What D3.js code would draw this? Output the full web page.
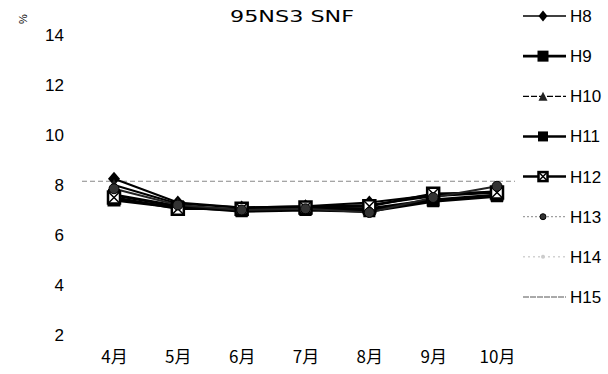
<!DOCTYPE html>
<html><head><meta charset="utf-8">
<script src="https://cdn.jsdelivr.net/npm/d3@7"></script>
<style>body{margin:0;background:#fff}svg{display:block}</style>
</head><body>
<svg id="c" width="608" height="374"></svg>
<script>
const months = ["4月","5月","6月","7月","8月","9月","10月"];
const yTicks = [2,4,6,8,10,12,14];
const seriesNames = ["H8","H9","H10","H11","H12","H13","H14","H15"];
const h8  = [8.25,7.30,7.10,7.15,7.30,7.60,7.75];
const h9  = [7.40,7.10,7.00,7.05,7.05,7.40,7.60];
const h10 = [8.00,7.25,7.10,7.15,7.20,7.55,7.70];
const h11 = [7.60,7.15,6.95,7.00,6.95,7.35,7.55];
const h12 = [7.50,7.05,7.05,7.10,7.15,7.65,7.70];
const h13 = [7.85,7.20,7.00,7.05,6.90,7.50,7.95];
const h15 = 8.15;

const FONT = "Liberation Sans, Arial, sans-serif";
const svg = d3.select("#c");
const x = d3.scalePoint().domain(months).range([114,497]);
const y = d3.scaleLinear().domain([2,14]).range([335,35]);

svg.append("text").attr("x",292).attr("y",22).attr("text-anchor","middle")
  .attr("font-family","DejaVu Sans, sans-serif").attr("font-size",15)
  .attr("textLength",124).attr("lengthAdjust","spacingAndGlyphs").text("95NS3 SNF");
svg.append("text").attr("transform","translate(27,19) rotate(-90)").attr("text-anchor","middle")
  .attr("font-family",FONT).attr("font-size",11).text("%");

const yAxis = d3.axisLeft(y).tickValues(yTicks).tickSize(0).tickPadding(0);
const gy = svg.append("g").attr("transform","translate(64,0)").call(yAxis);
gy.select(".domain").remove();
gy.selectAll("text").attr("font-family",FONT).attr("font-size",17).attr("fill","#000");

const xAxis = d3.axisBottom(x).tickSize(0).tickPadding(0);
const gx = svg.append("g").attr("transform","translate(0,351)").call(xAxis);
gx.select(".domain").remove();
gx.selectAll("text").attr("font-family","Noto Sans CJK JP, sans-serif").attr("font-size",17).attr("fill","#000");

// H15 reference line
svg.append("line").attr("x1",x(months[0])-32).attr("x2",x(months[months.length-1])+18)
  .attr("y1",y(h15)).attr("y2",y(h15)).attr("stroke","#888").attr("stroke-width",1).attr("stroke-dasharray","5,3");

const series = [
  {name:"H8", v:h8, m:"diamond", color:"#000", w:2.2, dash:null, size:12},
  {name:"H9", v:h9, m:"square", color:"#000", w:3, dash:null, size:13},
  {name:"H10", v:h10, m:"triangle", color:"#000", w:2, dash:null, size:12},
  {name:"H11", v:h11, m:"square", color:"#000", w:3, dash:null, size:12},
  {name:"H12", v:h12, m:"xsquare", color:"#000", w:2.6, dash:null, size:12},
  {name:"H13", v:h13, m:"circle", color:"#222", w:2, dash:null, size:10},
];
const line = d3.line().x((d,i)=>x(months[i])).y(d=>y(d));
series.forEach(s=>{
  svg.append("path").datum(s.v).attr("d",line).attr("fill","none")
    .attr("stroke",s.color).attr("stroke-width",s.w).attr("stroke-dasharray",s.dash);
});
function marker(g, type, cx, cy, size, color){
  const h = size/2;
  if(type==="diamond") g.append("path").attr("d",`M${cx},${cy-h-1}L${cx+h},${cy}L${cx},${cy+h+1}L${cx-h},${cy}Z`).attr("fill",color);
  else if(type==="square") g.append("rect").attr("x",cx-h).attr("y",cy-h).attr("width",size).attr("height",size).attr("fill",color);
  else if(type==="triangle") g.append("path").attr("d",`M${cx},${cy-h}L${cx+h},${cy+h}L${cx-h},${cy+h}Z`).attr("fill","#222");
  else if(type==="xsquare"){
    g.append("rect").attr("x",cx-h).attr("y",cy-h).attr("width",size).attr("height",size).attr("fill","#fff").attr("stroke",color).attr("stroke-width",2.5);
    g.append("path").attr("d",`M${cx-h},${cy-h}L${cx+h},${cy+h}M${cx+h},${cy-h}L${cx-h},${cy+h}`).attr("stroke",color).attr("stroke-width",1.5);
  }
  else if(type==="circle") g.append("circle").attr("cx",cx).attr("cy",cy).attr("r",h).attr("fill","#333").attr("stroke","#000");
  else if(type==="dot") g.append("circle").attr("cx",cx).attr("cy",cy).attr("r",h).attr("fill","#ccc");
}
series.forEach(s=>{
  const g = svg.append("g");
  s.v.forEach((d,i)=>marker(g,s.m,x(months[i]),y(d),s.size,s.color));
});

// legend
const legend = [
  {name:"H8", m:"diamond", color:"#000", w:1.6, dash:null, size:9},
  {name:"H9", m:"square", color:"#000", w:2.6, dash:null, size:11},
  {name:"H10", m:"triangle", color:"#000", w:1.2, dash:"6,2", size:9},
  {name:"H11", m:"square", color:"#000", w:2.4, dash:null, size:10},
  {name:"H12", m:"xsquare", color:"#000", w:2.4, dash:null, size:9},
  {name:"H13", m:"circle", color:"#888", w:1, dash:"2,2", size:6},
  {name:"H14", m:"dot", color:"#bbb", w:1, dash:"2,3", size:4},
  {name:"H15", m:null, color:"#555", w:1, dash:"6,1", size:0},
];
const ly = d3.scalePoint().domain(seriesNames).range([16,297]);
legend.forEach(l=>{
  const yy = ly(l.name);
  svg.append("line").attr("x1",523).attr("x2",566).attr("y1",yy).attr("y2",yy)
    .attr("stroke",l.color).attr("stroke-width",l.w).attr("stroke-dasharray",l.dash);
  if(l.m) marker(svg,l.m,543,yy,l.size,l.color);
  svg.append("text").attr("x",570).attr("y",yy+6).attr("font-family",FONT)
    .attr("font-size",17).text(l.name);
});
</script>
</body></html>
